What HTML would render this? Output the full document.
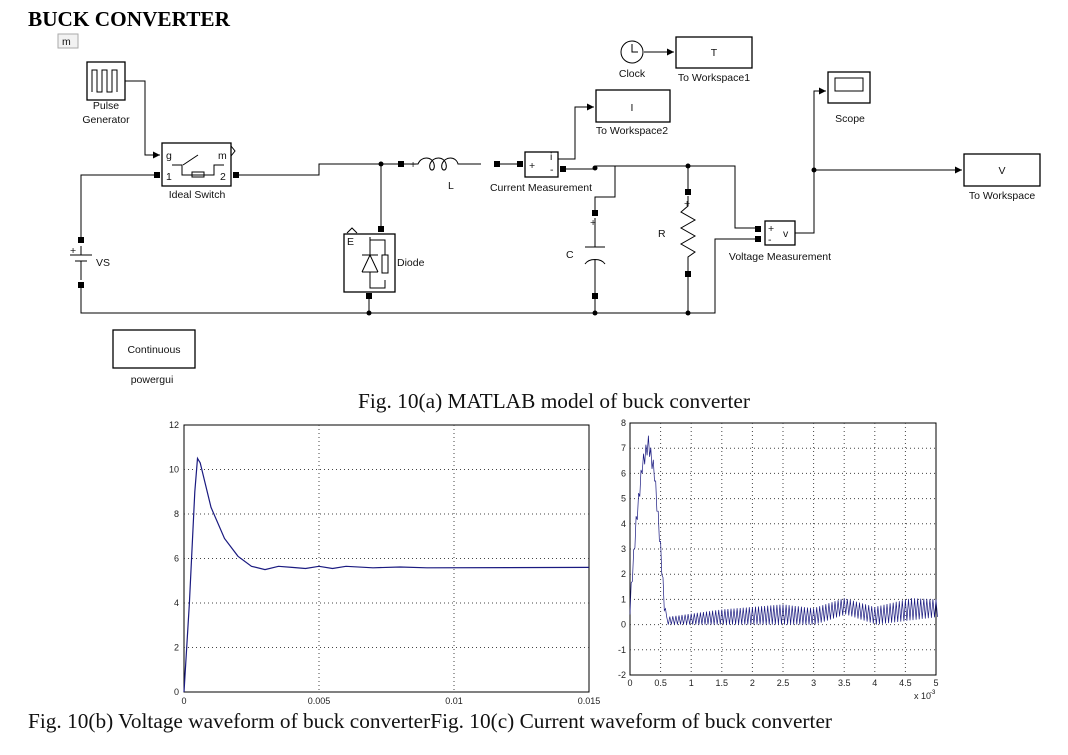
<!DOCTYPE html>
<html><head><meta charset="utf-8"><style>
html,body{margin:0;padding:0;background:#fff;}
svg{display:block;}
.s{font-family:"Liberation Sans",sans-serif;font-size:10.5px;fill:#111;}
.c{font-family:"Liberation Serif",serif;font-size:21px;fill:#111;}
</style></head><body>
<svg id="sv" width="1068" height="755" viewBox="0 0 1068 755" xmlns="http://www.w3.org/2000/svg">
<defs><marker id="ar" viewBox="0 0 10 10" refX="10" refY="5" markerWidth="7" markerHeight="7" orient="auto"><path d="M0,0L10,5L0,10z" fill="#000"/></marker></defs>
<text x="28" y="26" font-family="Liberation Serif,serif" font-size="21" font-weight="bold" textLength="202" lengthAdjust="spacingAndGlyphs">BUCK CONVERTER</text>
<rect x="58" y="34" width="20" height="14" fill="#f2f2f2" stroke="#aaa"/><text x="62" y="45" class="s">m</text>
<g stroke="#000" fill="none" stroke-width="1">
<rect x="87" y="62" width="38" height="38" fill="#fff" stroke-width="1.3"/>
<path d="M92,92V70h5v22h5V70h5v22h5V70h5v22" />
<path d="M125,81H145V155H160" marker-end="url(#ar)"/>
<rect x="162" y="143" width="69" height="43" stroke-width="1.3" fill="#fff"/>
<path d="M231,146l4,5l-4,5"/>
<path d="M172,165h10v10h32v-10h10 M183,165l15,-10"/>
<rect x="192" y="172" width="12" height="5"/>
<path d="M157,175H81V240 M237,175H319V164H401 M381,164V229"/>
<path d="M404,164h14c3,-8 14,-8 16,0c2,8 -6,8 -4,0c3,-8 14,-8 16,0c2,8 -6,8 -4,0c3,-8 14,-8 16,0c2,0 4,0 6,0h17"/>
<path d="M500,164h21"/>
<rect x="525" y="152" width="33" height="25" fill="#fff" stroke-width="1.3"/>
<path d="M558,159H575V107H594" marker-end="url(#ar)"/>
<rect x="596" y="90" width="74" height="32" fill="#fff" stroke-width="1.3"/>
<circle cx="632" cy="52" r="11"/><path d="M632,44v8h6"/>
<path d="M644,52H674" marker-end="url(#ar)"/>
<rect x="676" y="37" width="76" height="31" fill="#fff" stroke-width="1.3"/>
<rect x="828" y="72" width="42" height="31" fill="#fff" stroke-width="1.3"/>
<rect x="835" y="78" width="28" height="13"/>
<path d="M563,169H595 M595,166H735V228H756 M595,166h20v31h-20v16 M595,296V313"/>
<path d="M585,247h20 M585,264c4,-6 16,-6 20,0 M595,218V247 M595,260V296"/>
<path d="M688,166V192 M688,196V206l-7,6l14,8l-14,8l14,8l-14,8l14,8l-7,5V272 M688,276V313"/>
<rect x="765" y="221" width="30" height="24" fill="#fff" stroke-width="1.3"/>
<path d="M756,239H715V313H81V285 M795,233H814V91H826" marker-end="url(#ar)"/>
<path d="M814,170H962" marker-end="url(#ar)"/>
<rect x="964" y="154" width="76" height="32" fill="#fff" stroke-width="1.3"/>
<path d="M81,246V255 M70,255h22 M75,261h12 M81,261V280"/>
<rect x="344" y="234" width="51" height="58" fill="#fff" stroke-width="1.3"/>
<path d="M347,233l5,-5l5,5" />
<path d="M370,237V255 M362,255h16 M362,272h16 M362,272l8,-17l8,17 M370,272V288h15V280 M370,240h15v15"/>
<rect x="382" y="255" width="6" height="18"/>
<path d="M369,296V313"/>
</g>
<g fill="#000">
<circle cx="381" cy="164" r="2.5"/><circle cx="595" cy="168" r="2.5"/><circle cx="688" cy="166" r="2.5"/><circle cx="814" cy="170" r="2.5"/>
<circle cx="369" cy="313" r="2.5"/><circle cx="595" cy="313" r="2.5"/><circle cx="688" cy="313" r="2.5"/>
<rect x="78" y="237" width="6" height="6"/><rect x="78" y="282" width="6" height="6"/>
<rect x="154" y="172" width="6" height="6"/><rect x="233" y="172" width="6" height="6"/>
<rect x="398" y="161" width="6" height="6"/><rect x="494" y="161" width="6" height="6"/><rect x="517" y="161" width="6" height="6"/><rect x="560" y="166" width="6" height="6"/>
<rect x="378" y="226" width="6" height="6"/><rect x="366" y="293" width="6" height="6"/>
<rect x="592" y="210" width="6" height="6"/><rect x="592" y="293" width="6" height="6"/>
<rect x="685" y="189" width="6" height="6"/><rect x="685" y="271" width="6" height="6"/>
<rect x="755" y="226" width="6" height="6"/><rect x="755" y="236" width="6" height="6"/>
</g>
<text x="106" y="109" class="s" text-anchor="middle">Pulse</text>
<text x="106" y="123" class="s" text-anchor="middle">Generator</text>
<text x="166" y="159" class="s">g</text><text x="218" y="159" class="s">m</text>
<text x="166" y="180" class="s">1</text><text x="220" y="180" class="s">2</text>
<text x="197" y="198" class="s" text-anchor="middle">Ideal Switch</text>
<text x="96" y="266" class="s">VS</text><text x="70" y="254" class="s">+</text>
<text x="397" y="266" class="s">Diode</text><text x="347" y="245" class="s" font-size="9">E</text>
<text x="448" y="189" class="s">L</text>
<text x="529" y="169" class="s">+</text><text x="550" y="160" class="s" font-size="9">i</text><text x="550" y="173" class="s">-</text>
<text x="541" y="191" class="s" text-anchor="middle">Current Measurement</text>
<text x="632" y="111" class="s" text-anchor="middle">I</text>
<text x="632" y="134" class="s" text-anchor="middle">To Workspace2</text>
<text x="632" y="77" class="s" text-anchor="middle">Clock</text>
<text x="714" y="56" class="s" text-anchor="middle">T</text>
<text x="714" y="81" class="s" text-anchor="middle">To Workspace1</text>
<text x="850" y="122" class="s" text-anchor="middle">Scope</text>
<text x="1002" y="174" class="s" text-anchor="middle">V</text>
<text x="1002" y="199" class="s" text-anchor="middle">To Workspace</text>
<text x="566" y="258" class="s">C</text><text x="658" y="237" class="s">R</text>
<text x="590" y="226" class="s" fill="#c33" font-size="9">+</text><text x="684" y="207" class="s" fill="#c33" font-size="9">+</text><text x="410" y="168" class="s" fill="#c33" font-size="9">+</text>
<text x="768" y="232" class="s">+</text><text x="768" y="243" class="s">-</text><text x="783" y="237" class="s" font-size="9">v</text>
<text x="780" y="260" class="s" text-anchor="middle">Voltage Measurement</text>
<rect x="113" y="330" width="82" height="38" fill="#fff" stroke="#000" stroke-width="1.3"/>
<text x="154" y="353" class="s" text-anchor="middle" fill="#2a2aa0">Continuous</text>
<text x="152" y="383" class="s" text-anchor="middle">powergui</text>
<text x="358" y="408" class="c" textLength="392" lengthAdjust="spacingAndGlyphs">Fig. 10(a) MATLAB model of buck converter</text>
<g id="p1"></g><g id="p2"></g>
<text x="28" y="728" class="c" textLength="804" lengthAdjust="spacingAndGlyphs">Fig. 10(b) Voltage waveform of buck converterFig. 10(c) Current waveform of buck converter</text>
</svg>
<script>
var NS="http://www.w3.org/2000/svg";
function el(g,t,a,txt){var e=document.createElementNS(NS,t);for(var k in a)e.setAttribute(k,a[k]);if(txt!==undefined)e.textContent=txt;g.appendChild(e);return e;}
var st="font-family:'Liberation Sans',sans-serif;font-size:9px;fill:#222";
var g=document.getElementById('p1');
var L=184,R=589,T=425,B=692;
el(g,'rect',{x:L,y:T,width:R-L,height:B-T,fill:'#fff',stroke:'#000'});
for(var v=0;v<=12;v+=2){var y=B-v*(B-T)/12;if(v>0&&v<12)el(g,'line',{x1:L,x2:R,y1:y,y2:y,stroke:'#444','stroke-dasharray':'1,3'});el(g,'text',{x:L-5,y:y+3,'text-anchor':'end',style:st},String(v));}
var xs=[0,0.005,0.01,0.015],xl=['0','0.005','0.01','0.015'];
for(var i=0;i<4;i++){var x=L+xs[i]/0.015*(R-L);if(i>0&&i<3)el(g,'line',{x1:x,x2:x,y1:T,y2:B,stroke:'#444','stroke-dasharray':'1,3'});el(g,'text',{x:x,y:B+12,'text-anchor':'middle',style:st},xl[i]);}
var pts=[[0,0],[0.0002,4],[0.0004,9],[0.0005,10.5],[0.0006,10.3],[0.001,8.3],[0.0015,6.9],[0.002,6.1],[0.0025,5.65],[0.003,5.5],[0.0035,5.65],[0.004,5.6],[0.0045,5.55],[0.005,5.65],[0.0055,5.55],[0.006,5.65],[0.007,5.58],[0.008,5.62],[0.009,5.58],[0.015,5.6]];
el(g,'polyline',{points:pts.map(function(p){return (L+p[0]/0.015*(R-L)).toFixed(1)+','+(B-p[1]*(B-T)/12).toFixed(1)}).join(' '),fill:'none',stroke:'#1a1a80','stroke-width':1.2});
g=document.getElementById('p2');
L=630;R=936;T=423;B=675;
el(g,'rect',{x:L,y:T,width:R-L,height:B-T,fill:'#fff',stroke:'#000'});
function Y(v){return B-(v+2)*(B-T)/10;}function X(t){return L+t/5*(R-L);}
for(v=-2;v<=8;v++){y=Y(v);if(v>-2&&v<8)el(g,'line',{x1:L,x2:R,y1:y,y2:y,stroke:'#444','stroke-dasharray':'1,3'});el(g,'text',{x:L-4,y:y+3,'text-anchor':'end',style:st},String(v));}
for(var t=0;t<=5;t+=0.5){x=X(t);if(t>0&&t<5)el(g,'line',{x1:x,x2:x,y1:T,y2:B,stroke:'#444','stroke-dasharray':'1,3'});el(g,'text',{x:x,y:B+11,'text-anchor':'middle',style:st},String(t));}
el(g,'text',{x:R-22,y:B+24,style:st},'x 10');el(g,'text',{x:R-6,y:B+19,style:"font-family:'Liberation Sans',sans-serif;font-size:6px"},'-3');
function interp(a,t){for(var i=1;i<a.length;i++)if(t<=a[i][0]){var f=(t-a[i-1][0])/(a[i][0]-a[i-1][0]);return a[i-1][1]+f*(a[i][1]-a[i-1][1]);}return a[a.length-1][1];}
var up=[[0.6,0.3],[1.5,0.6],[2.5,0.8],[3,0.65],[3.5,1.05],[4,0.7],[4.6,1.05],[5,1.0]];
var lo=[[0.6,0],[3,0],[3.5,0.4],[4,0],[4.5,0.15],[5,0.3]];
var p=[];
var rise=[[0,0.7],[0.1,4],[0.2,6.3],[0.3,7.2],[0.4,6],[0.5,3],[0.57,0.5],[0.6,0]];
for(t=0;t<=0.6;t+=0.02){var vv=interp(rise,t)+((Math.round(t*50)%2)?0.3:-0.3);p.push(X(t).toFixed(1)+','+Y(vv).toFixed(1));}
for(t=0.6;t<=5;t+=0.05){var hi=interp(up,t),lw=interp(lo,t);p.push(X(t).toFixed(1)+','+Y(hi).toFixed(1));p.push(X(t+0.025).toFixed(1)+','+Y(lw).toFixed(1));}
el(g,'polyline',{points:p.join(' '),fill:'none',stroke:'#1a1a80','stroke-width':0.7});
</script>
</body></html>
